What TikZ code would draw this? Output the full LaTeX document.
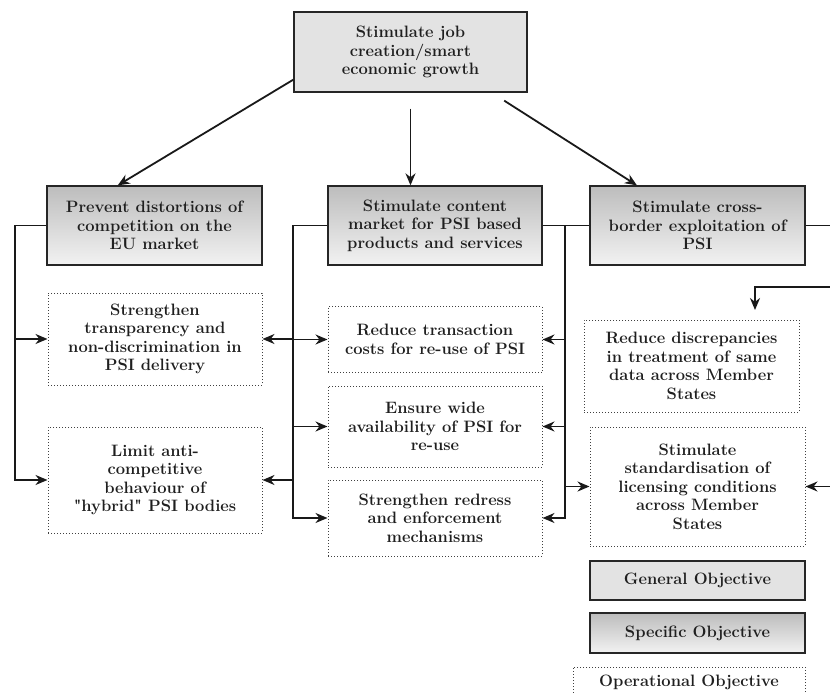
\documentclass[tikz,border=0pt]{standalone}
\usepackage{tikz}
\usetikzlibrary{calc,arrows.meta}

\begin{document}
\begin{tikzpicture}[
        %We set the units to reference pixels and define some styles
        x=1pt, y=-1pt,
        every node/.style={color=black!88, font=\fontsize{16.5}{18.5}\selectfont\bfseries, align=center, inner sep=2pt},
        box size/.style 2 args={minimum width=#1, minimum height=#2},
        general box/.style={draw=black!85, line width=1.3pt, fill=black!11},
        specific box/.style={draw=black!85, line width=1.3pt, top color=black!26, bottom color=black!5},
        operational box/.style={draw=black!75, dotted, line width=1pt, fill=white},
        link/.style={line width=1.8pt, color=black!90},
        arrow link/.style={link, -{Stealth[length=12pt,width=10pt]}}
]
\useasboundingbox (0,0) rectangle (830,693);
\clip (0,0) rectangle (830,693);
% Bus lines and the right border are defined
    \coordinate (busL) at (15,0);
    \coordinate (busM) at (293,0);
    \coordinate (busR) at (565,0);
    \coordinate (edge) at (840,0);
    \coordinate (fromR) at (840,287);
    \coordinate (intoF) at (755,310);

    % general objective
    \node[general box, box size={233}{80}] (gen) at (410.5,52) {Stimulate job\\creation/smart\\economic growth};
    % specific objectives
    \node[specific box, box size={215}{79}] (spec1) at (154.5,225.5) {Prevent distortions of\\competition on the\\EU market};
    \node[specific box, box size={214}{79}] (spec2) at (435,225.5) {Stimulate content\\market for PSI based\\products and services};
    \node[specific box, box size={215}{79}] (spec3) at (697.5,225.5) {Stimulate cross-\\border exploitation of\\PSI};
    % operational objectives
    \node[operational box, box size={214}{92}] (opA) at (155,339) {Strengthen\\transparency and\\non-discrimination in\\PSI delivery};
    \node[operational box, box size={214}{106}] (opB) at (155,480) {Limit anti-\\competitive\\behaviour of\\\textquotedbl hybrid\textquotedbl{} PSI bodies};
    \node[operational box, box size={214}{66}] (opC) at (435,339.5) {Reduce transaction\\costs for re-use of PSI};
    \node[operational box, box size={214}{81}] (opD) at (435,426.5) {Ensure wide\\availability of PSI for\\re-use};
    \node[operational box, box size={214}{76}] (opE) at (435,518) {Strengthen redress\\and enforcement\\mechanisms};
    \node[operational box, box size={215}{92}] (opF) at (691.5,366) {Reduce discrepancies\\in treatment of same\\data across Member\\States};
    \node[operational box, box size={215}{119}] (opG) at (697.5,486.5) {Stimulate\\standardisation of\\licensing conditions\\across Member\\States};
    % legend
    \node[general box, box size={215}{39}] (lgen) at (697.5,580.5) {General Objective};
    \node[specific box, box size={215}{40}] (lspec) at (697.5,633) {Specific Objective};
    \node[operational box, box size={232}{30}] (lop) at (689,682) {Operational Objective};

    % links from the general objective
    \draw[arrow link] ($(gen.south west)+(0,-13)$) -- ($(spec1.north west)!0.33!(spec1.north east)$);
    \draw[arrow link] ($(gen.south)+(0,16)$) -- (gen.south |- spec2.north);
    \draw[arrow link] ($(gen.south)!0.8!(gen.south east)+(0,8)$) -- ($(spec3.north west)!0.22!(spec3.north east)$);

    % left bus
    \draw[arrow link] (spec1.west) -| (busL |- opB.west) -- (opB.west);
    \draw[arrow link] (busL |- opA.west) -- (opA.west);
    % middle bus
    \draw[arrow link] (spec2.west) -| (busM |- opE.west) -- (opE.west);
    \draw[arrow link] (busM |- opA.east) -- (opA.east);
    \draw[arrow link] (busM |- opC.west) -- (opC.west);
    \draw[arrow link] (busM |- opD.west) -- (opD.west);
    \draw[arrow link] (busM |- opB.east) -- (opB.east);
    % right bus
    \draw[link] (spec2.east) -- (spec3.west);
    \draw[arrow link] (busR |- spec2.east) -- (busR |- opE.east) -- (opE.east);
    \draw[arrow link] (busR |- opC.east) -- (opC.east);
    \draw[arrow link] (busR |- opD.east) -- (opD.east);
    \draw[arrow link] (busR |- opG.west) -- (opG.west);
    % lines leaving to the right
    \draw[link] (spec3.east) -- (spec3.east -| edge);
    \draw[arrow link] (fromR) -| (intoF);
    \draw[arrow link] (opG.east -| edge) -- (opG.east);
\end{tikzpicture}
\end{document}
